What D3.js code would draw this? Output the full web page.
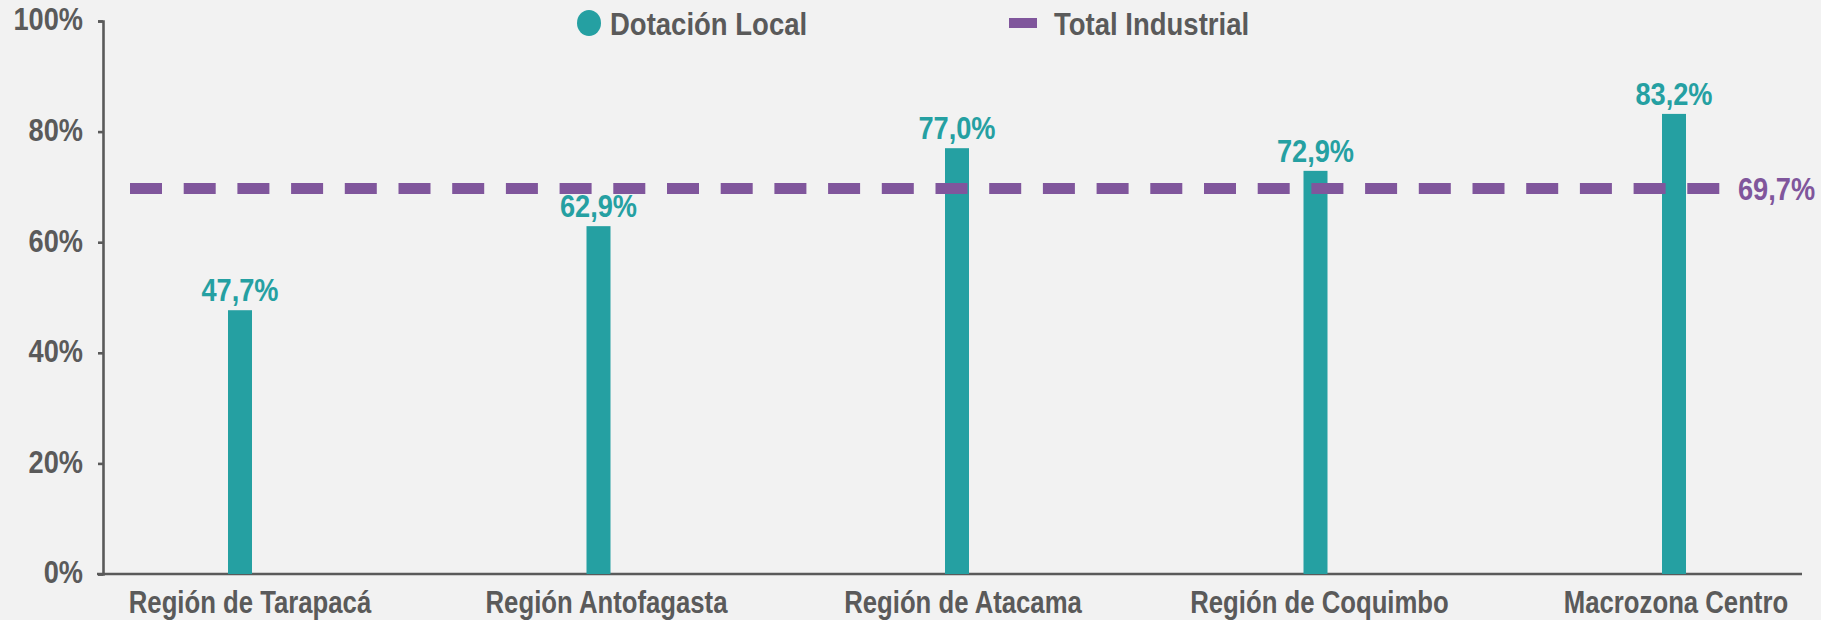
<!DOCTYPE html>
<html>
<head>
<meta charset="utf-8">
<script src="https://cdn.jsdelivr.net/npm/d3@7"></script>
<style>
  html, body { margin: 0; padding: 0; background: #f2f2f2; }
  svg { display: block; }
  text { font-family: "Liberation Sans", Arial, "Roboto", sans-serif; font-weight: bold; }
</style>
</head>
<body>
<svg id="chart" width="1821" height="620"></svg>
<script>
const categories = ["Región de Tarapacá", "Región Antofagasta", "Región de Atacama", "Región de Coquimbo", "Macrozona Centro"];
const dotacionLocal = [47.7, 62.9, 77.0, 72.9, 83.2];
const totalIndustrial = 69.7;
const yTicks = [0, 20, 40, 60, 80, 100];
const valueLabels = ["47,7%", "62,9%", "77,0%", "72,9%", "83,2%"];
const totalLabel = "69,7%";
const legendLabels = ["Dotación Local", "Total Industrial"];

const teal = "#25a0a2";
const purple = "#80569c";
const gray = "#5a5a5a";
const SQ = 0.83;   // horizontal condensing of word labels
const SQN = 0.85;  // horizontal condensing of numeric labels

const svg = d3.select("#chart");
const W = 1821, H = 620;
const axisX = 103, baseY = 574, topY = 21, axisEnd = 1802;

const y = d3.scaleLinear().domain([0, 100]).range([baseY, topY]);
const x = d3.scalePoint().domain(categories).range([240, 1674]);
const xLab = d3.scalePoint().domain(categories).range([250, 1676]);

svg.append("rect").attr("width", W).attr("height", H).attr("fill", "#f2f2f2");

function ctext(g, px, py, s) {
  return g.append("text").attr("transform", `translate(${px},${py}) scale(${s},1)`);
}

// Y axis
const yAxis = d3.axisLeft(y).tickValues(yTicks).tickSize(5).tickPadding(14)
  .tickFormat(d => d + "%");
const gy = svg.append("g").attr("transform", `translate(${axisX},0)`).call(yAxis);
gy.select(".domain").attr("stroke", gray).attr("stroke-width", 2.6);
gy.selectAll(".tick line").attr("stroke", gray).attr("stroke-width", 2.6);
gy.selectAll(".tick text").attr("fill", gray).attr("font-size", 32)
  .attr("font-family", null).attr("dy", "0.28em")
  .attr("x", -20 / SQN).attr("transform", `scale(${SQN},1)`);

// X axis baseline
svg.append("line").attr("x1", axisX - 6).attr("x2", axisEnd)
  .attr("y1", y(0)).attr("y2", y(0)).attr("stroke", gray).attr("stroke-width", 2.6);

// Bars
const bw = 24;
svg.append("g").selectAll("rect").data(dotacionLocal).join("rect")
  .attr("x", (d, i) => x(categories[i]) - bw / 2)
  .attr("y", d => y(d))
  .attr("width", bw)
  .attr("height", d => y(0) - y(d))
  .attr("fill", teal);

// Value labels
svg.append("g").selectAll("text").data(dotacionLocal).join("text")
  .attr("transform", (d, i) => `translate(${x(categories[i])},${y(d) - 9}) scale(${SQN},1)`)
  .attr("text-anchor", "middle")
  .attr("fill", teal).attr("font-size", 32)
  .text((d, i) => valueLabels[i]);

// Dashed total line
svg.append("line")
  .attr("x1", 130).attr("x2", 1721)
  .attr("y1", y(totalIndustrial)).attr("y2", y(totalIndustrial))
  .attr("stroke", purple).attr("stroke-width", 11)
  .attr("stroke-dasharray", "32 21.7");
ctext(svg, 1738, y(totalIndustrial), SQN).attr("dy", "0.36em")
  .attr("fill", purple).attr("font-size", 32).text(totalLabel);

// Category labels
svg.append("g").selectAll("text").data(categories).join("text")
  .attr("transform", d => `translate(${xLab(d)},613) scale(${SQ},1)`)
  .attr("text-anchor", "middle").attr("fill", gray).attr("font-size", 31)
  .text(d => d);

// Legend
const lg = svg.append("g");
lg.append("ellipse").attr("cx", 589).attr("cy", 23).attr("rx", 12).attr("ry", 13).attr("fill", teal);
ctext(lg, 610, 23, 0.86).attr("dy", "0.36em")
  .attr("fill", gray).attr("font-size", 32).text(legendLabels[0]);
lg.append("rect").attr("x", 1009).attr("y", 18).attr("width", 28).attr("height", 10).attr("fill", purple);
ctext(lg, 1054, 23, 0.86).attr("dy", "0.36em")
  .attr("fill", gray).attr("font-size", 32).text(legendLabels[1]);
</script>
</body>
</html>
